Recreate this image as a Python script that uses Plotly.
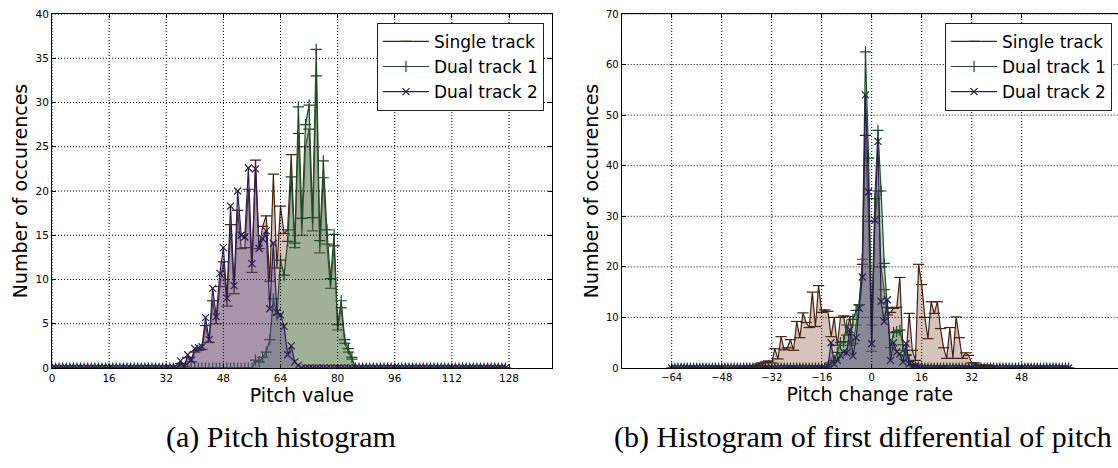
import plotly.graph_objects as go
from plotly.subplots import make_subplots

# ---- (a) pitch histogram: counts per MIDI pitch value 0..127 ----
pitch_values = list(range(128))

pitch_single = [0] * 36 + [
    0.5, 0.2, 1.2, 0.7, 1.8, 2.0, 2.1, 4.8, 2.9, 7.6,
    5.0, 9.2, 12.0, 7.0, 16.2, 8.4, 17.8, 13.5, 13.6, 20.2,
    10.8, 23.5, 13.5, 16.0, 17.2, 9.8, 21.9, 11.3, 18.3, 15.2,
    15.6, 24.1, 13.6, 26.5, 15.0, 25.0, 27.0, 15.5, 33.0, 13.0,
    21.5, 14.0, 9.0, 13.8, 4.3, 6.8, 2.8, 1.8, 1.0,
] + [0] * 43

pitch_dual1 = [0] * 57 + [
    0.9, 0.7, 1.2, 1.8, 3.2, 7.8, 6.0, 12.2, 10.5, 14.3,
    21.6, 14.1, 29.5, 16.9, 27.5, 29.7, 17.0, 36.0, 14.4, 23.4,
    15.6, 10.1, 15.1, 4.9, 7.6, 3.2, 2.2, 1.2,
] + [0] * 43

pitch_dual2 = [0] * 36 + [
    0.8, 0.15, 1.5, 0.9, 2.2, 2.3, 2.4, 5.7, 3.2, 9.0,
    5.8, 10.7, 13.6, 7.9, 18.3, 9.3, 20.0, 15.0, 14.8, 22.6,
    11.8, 22.5, 13.5, 14.6, 15.5, 6.7, 14.1, 6.3, 6.0, 4.7,
    1.5, 2.5, 0.7, 0.3,
] + [0] * 58

# ---- (b) histogram of the first differential of pitch: -64..63 ----
change_values = list(range(-64, 64))

change_single = [0] * 24 + [
    0.2, 0.3, 0.4, 0.5, 0.8, 1.0, 1.2, 1.4, 1.0, 3.8,
    1.8, 6.2, 3.6, 4.0, 5.6, 3.5, 9.2, 6.0, 10.9, 9.0,
    8.0, 15.0, 8.2, 16.3, 11.0, 11.5, 11.2, 6.2, 10.0, 4.5,
    10.0, 10.3, 6.5, 10.2, 4.8, 8.5, 12.5, 20.5, 46.0, 29.0,
    3.3,
    29.0, 35.0, 20.0, 15.5, 10.5, 11.0, 11.8, 12.0, 17.9, 3.5,
    2.5, 10.8, 3.5, 1.5, 20.5, 16.5, 10.0, 5.8, 13.1, 10.8,
    13.1, 7.8, 4.0, 1.9, 8.0, 1.9, 10.1, 6.0, 1.9, 3.0,
    2.5, 1.0, 1.0, 0.6, 0.5, 0.3, 0.6, 0.3, 0.2, 0.0,
] + [0] * 23

change_dual1 = [0] * 48 + [
    0, 0, 0.3, 1.0, 1.5, 3.1, 5.0, 5.2, 8.5, 4.5,
    9.6, 11.4, 12.5, 21.5, 62.5, 41.5, 8.5, 33.5, 47.0, 35.0,
    20.7, 12.0, 4.0, 7.0, 7.2, 7.5, 4.6, 2.6, 1.3, 0.5,
    0.2, 0, 0,
] + [0] * 47

change_dual2 = [0] * 48 + [
    0, 0, 0.3, 5.0, 0.8, 1.5, 2.5, 3.2, 3.0, 7.6,
    2.4, 6.0, 11.8, 18.0, 54.0, 34.8, 4.8, 29.2, 44.8, 13.2,
    9.2, 13.5, 1.5, 5.0, 3.2, 2.8, 1.2, 4.8, 0.8, 0.3,
    0.5, 0.3, 0,
] + [0] * 47

series_names = ["Single track", "Dual track 1", "Dual track 2"]

pitch_ticks = [0, 16, 32, 48, 64, 80, 96, 112, 128]
pitch_yticks = [0, 5, 10, 15, 20, 25, 30, 35, 40]
change_ticks = [-64, -48, -32, -16, 0, 16, 32, 48]
change_yticks = [0, 10, 20, 30, 40, 50, 60, 70]

# line colour, fill colour, marker symbol, marker size per series
styles = [
    ("rgb(70,34,20)", "rgba(120,55,30,0.30)", "line-ew", 8),
    ("rgb(28,74,40)", "rgba(80,150,100,0.40)", "cross-thin", 8),
    ("rgb(42,30,78)", "rgba(100,78,148,0.40)", "x-thin", 7),
]

FONT = "DejaVu Sans"

fig = make_subplots(rows=1, cols=2)

def add_series(xs, ys_list, col, legend_name):
    for name, ys, (lc, fc, sym, ms) in zip(series_names, ys_list, styles):
        # translucent area under the curve
        fig.add_trace(
            go.Scatter(x=xs, y=ys, mode="none", fill="tozeroy",
                       fillcolor=fc, showlegend=False, hoverinfo="skip"),
            row=1, col=col,
        )
        # the curve itself with its point markers
        fig.add_trace(
            go.Scatter(
                x=xs, y=ys, name=name, mode="lines+markers",
                line=dict(color=lc, width=1.2),
                marker=dict(symbol=sym, size=ms, color=lc,
                            line=dict(color=lc, width=1.2)),
                legend=legend_name,
            ),
            row=1, col=col,
        )

add_series(pitch_values, [pitch_single, pitch_dual1, pitch_dual2], 1, "legend")
add_series(change_values, [change_single, change_dual1, change_dual2], 2, "legend2")

axis_common = dict(
    showline=True, linecolor="black", linewidth=1,
    ticks="inside", ticklen=4, tickcolor="black",
    showgrid=False, zeroline=False,
    tickfont=dict(family=FONT, size=10.5, color="black"),
)

fig.update_xaxes(axis_common)
fig.update_yaxes(axis_common)

title_font = dict(family=FONT, size=19, color="black")
fig.update_layout(
    xaxis=dict(domain=[0, 0.4689], range=[0, 140], tickvals=pitch_ticks,
               mirror="allticks",
               title=dict(text="Pitch value", standoff=4, font=title_font)),
    yaxis=dict(domain=[0, 1], range=[0, 40], tickvals=pitch_yticks,
               mirror="allticks",
               title=dict(text="Number of occurences", standoff=2, font=title_font)),
    xaxis2=dict(domain=[0.5344, 1], range=[-80, 78.8], tickvals=change_ticks,
                mirror="allticks",
                tickfont=dict(family=FONT, size=10, color="black"),
                title=dict(text="Pitch change rate", standoff=4, font=title_font)),
    yaxis2=dict(domain=[0, 1], range=[0, 70], tickvals=change_yticks,
                tickfont=dict(family=FONT, size=10, color="black"),
                title=dict(text="Number of occurences", standoff=2, font=title_font)),
)

legend_common = dict(
    xanchor="right", yanchor="top",
    bgcolor="white", bordercolor="#222", borderwidth=1,
    font=dict(family=FONT, size=17, color="black"),
    itemwidth=46, tracegroupgap=0,
)
fig.update_layout(
    legend=dict(legend_common, x=0.4615, y=0.975),
    legend2=dict(legend_common, x=0.9944, y=0.975),
)

# dotted grid drawn on top of the filled areas
shapes = []
for v in pitch_ticks:
    shapes.append(dict(type="line", xref="x", yref="y domain", x0=v, x1=v, y0=0, y1=1))
for v in pitch_yticks[1:]:
    shapes.append(dict(type="line", xref="x domain", yref="y", x0=0, x1=1, y0=v, y1=v))
for v in change_ticks:
    shapes.append(dict(type="line", xref="x2", yref="y2 domain", x0=v, x1=v, y0=0, y1=1))
for v in change_yticks[1:]:
    shapes.append(dict(type="line", xref="x2 domain", yref="y2", x0=0, x1=1, y0=v, y1=v))
for s in shapes:
    s.update(layer="above", line=dict(color="black", width=1, dash="1px,2px"))

captions = [
    ("(a) Pitch histogram", 0.2148),
    ("(b) Histogram of first differential of pitch", 0.7608),
]
annotations = [
    dict(text=t, x=x, y=-0.195, xref="paper", yref="paper",
         xanchor="center", yanchor="middle", showarrow=False,
         font=dict(family="Liberation Serif", size=30, color="black"))
    for t, x in captions
]

fig.update_layout(
    width=1118, height=468,
    margin=dict(l=52, r=0, t=14, b=100),
    plot_bgcolor="white", paper_bgcolor="white",
    shapes=shapes, annotations=annotations,
    showlegend=True,
)

fig.write_html("out.html")
